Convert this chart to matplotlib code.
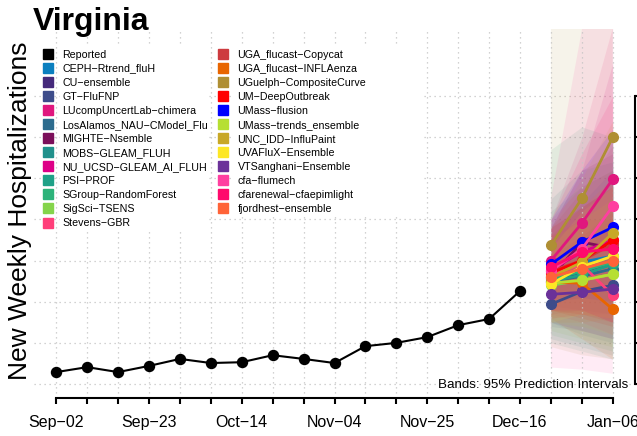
import numpy as np
import pandas as pd
import matplotlib
matplotlib.use("Agg")
from matplotlib import pyplot as plt, patches
from matplotlib import dates as mdates
from matplotlib.lines import Line2D

plt.rcParams['font.family'] = ['Liberation Sans', 'DejaVu Sans']

# reported weekly hospitalizations
report_dates = pd.date_range("2024-09-02", "2024-12-16", freq="7D")
reported = [29, 41, 29, 44, 61, 51, 53, 70, 61, 51, 92, 100, 114, 143, 158, 226]

# forecast horizon
fc_dates = pd.date_range("2024-12-23", "2025-01-06", freq="7D")

models = ["CEPH−Rtrend_fluH", "CU−ensemble", "GT−FluFNP", "LUcompUncertLab−chimera",
          "LosAlamos_NAU−CModel_Flu", "MIGHTE−Nsemble", "MOBS−GLEAM_FLUH",
          "NU_UCSD−GLEAM_AI_FLUH", "PSI−PROF", "SGroup−RandomForest", "SigSci−TSENS",
          "Stevens−GBR", "UGA_flucast−Copycat", "UGA_flucast−INFLAenza",
          "UGuelph−CompositeCurve", "UM−DeepOutbreak", "UMass−flusion",
          "UMass−trends_ensemble", "UNC_IDD−InfluPaint", "UVAFluX−Ensemble",
          "VTSanghani−Ensemble", "cfa−flumech", "cfarenewal−cfaepimlight",
          "fjordhest−ensemble"]
colors = ["#0B7FBF", "#452A7B", "#3D4C8A", "#E0177E", "#2D6C8E", "#7B0F5A", "#21918C",
          "#DD0087", "#1FA187", "#2DB37A", "#84D44B", "#FF3F7A", "#CD3B3F", "#E86500",
          "#AF8F34", "#FF0000", "#0000FF", "#B6DF32", "#C8A826", "#FDE725", "#6B3199",
          "#FF3FA0", "#FF0A6C", "#FF6338"]

fc_median = [[262, 296, 311], [248, 272, 296], [194, 225, 240], [300, 391, 498],
             [250, 262, 280], [260, 345, 330], [257, 272, 300], [277, 321, 350],
             [250, 265, 291], [255, 275, 296], [240, 252, 267], [267, 290, 216],
             [275, 300, 340], [248, 245, 182], [337, 451, 600], [270, 300, 350],
             [291, 345, 381], [245, 252, 267], [260, 296, 367], [243, 285, 311],
             [218, 223, 231], [275, 328, 432], [284, 321, 328], [260, 280, 300]]
fc_lower = [[190, 180, 170], [180, 160, 140], [140, 130, 110], [210, 250, 280],
            [150, 120, 100], [170, 180, 150], [110, 90, 70], [180, 170, 170],
            [100, 80, 60], [120, 100, 80], [130, 110, 90], [170, 150, 120],
            [180, 170, 160], [160, 110, 60], [90, 70, 60], [160, 170, 150],
            [200, 210, 200], [150, 140, 120], [150, 150, 160], [150, 170, 160],
            [150, 130, 110], [40, 35, 25], [180, 180, 150], [180, 160, 140]]
fc_upper = [[350, 440, 520], [310, 360, 420], [260, 330, 380], [400, 600, 870],
            [360, 430, 480], [380, 520, 560], [450, 520, 540], [380, 520, 780],
            [570, 625, 600], [420, 480, 520], [380, 430, 480], [400, 480, 520],
            [380, 470, 580], [360, 400, 400], [1000, 1200, 1500], [380, 430, 480],
            [400, 520, 620], [350, 400, 450], [380, 500, 640], [330, 420, 480],
            [300, 340, 380], [450, 860, 1400], [400, 560, 700], [360, 430, 500]]

week_ticks = pd.date_range("2024-09-02", "2025-01-06", freq="7D")
tick_labels = ["Sep−02", "", "", "Sep−23", "", "", "Oct−14", "", "", "Nov−04", "", "",
               "Nov−25", "", "", "Dec−16", "", "", "Jan−06"]
y_grid = [0, 100, 200, 300, 400, 500, 600, 700]

fig = plt.figure(figsize=(6.37, 4.36), dpi=100)
ax = fig.add_axes([34 / 637, 38 / 436, 601 / 637, 369 / 436])

pad = pd.Timedelta(days=5.04)
ax.set_xlim(week_ticks[0] - pad, week_ticks[-1] + pad)
ax.set_ylim(-34, 863)

grid_kw = dict(color="#c4c4c4", linestyle=(0, (1, 3)), linewidth=0.9)
for y in y_grid:
    ax.axhline(y, zorder=0.5, **grid_kw)

# prediction bands
for i in range(len(models)):
    ax.fill_between(fc_dates, fc_lower[i], fc_upper[i], color=colors[i],
                    alpha=0.1, linewidth=0, zorder=1)

for d in week_ticks:
    ax.axvline(d, zorder=1.5, **grid_kw)

# white boxes behind legend text
for x0, x1, y1 in [(60, 209, 229), (233, 424, 215)]:
    ax.add_patch(patches.Rectangle((x0 / 637, 1 - y1 / 436), (x1 - x0) / 637,
                                   (y1 - 45) / 436, transform=fig.transFigure,
                                   facecolor="white", edgecolor="none", zorder=1.8))

ax.plot(report_dates, reported, color="black", linewidth=1.5, marker="o",
        markersize=7.2, zorder=3)

for i in range(len(models)):
    ax.plot(fc_dates, fc_median[i], color=colors[i], linewidth=2.0, marker="o",
            markersize=7, zorder=4)

# axes styling
for side in ["left", "top"]:
    ax.spines[side].set_visible(False)
ax.spines["bottom"].set_bounds(mdates.date2num(week_ticks[0]),
                               mdates.date2num(week_ticks[-1]))
ax.spines["right"].set_bounds(y_grid[0], y_grid[-1])
ax.spines["bottom"].set_linewidth(1.5)
ax.spines["right"].set_linewidth(1.5)
ax.set_xticks(week_ticks)
ax.set_xticklabels(tick_labels, fontsize=11.5)
ax.tick_params(axis="x", length=4, width=1.5, pad=8)
ax.yaxis.tick_right()
ax.set_yticks(y_grid)
ax.tick_params(axis="y", length=6, width=1.5, labelright=False)

# legend in two columns
handles = [Line2D([], [], marker="s", linestyle="none", markersize=6.5,
                  color="black")] + \
          [Line2D([], [], marker="s", linestyle="none", markersize=6.5, color=c)
           for c in colors]
labels = ["Reported"] + models
leg_kw = dict(loc="upper left", frameon=False, fontsize=7.7, handlelength=1.0,
              handletextpad=0.9, borderpad=0, borderaxespad=0, labelspacing=0.38,
              bbox_transform=fig.transFigure)
leg1 = ax.legend(handles[:13], labels[:13], bbox_to_anchor=(42.2 / 637, 1 - 49.5 / 436),
                 **leg_kw)
leg1.set_zorder(5)
ax.add_artist(leg1)
leg2 = ax.legend(handles[13:], labels[13:], bbox_to_anchor=(217.2 / 637, 1 - 49.5 / 436),
                 **leg_kw)
leg2.set_zorder(5)

fig.text(33 / 637, 1 - 30 / 436, "Virginia", fontsize=23, fontweight="bold",
         ha="left", va="baseline")
fig.text(20.5 / 637, 1 - 211 / 436, "New Weekly Hospitalizations", fontsize=19,
         rotation=90, ha="center", va="center")
fig.text(628 / 637, 1 - 388 / 436, "Bands: 95% Prediction Intervals", fontsize=9.6,
         ha="right", va="baseline")

fig.savefig("out.png", dpi=100)
